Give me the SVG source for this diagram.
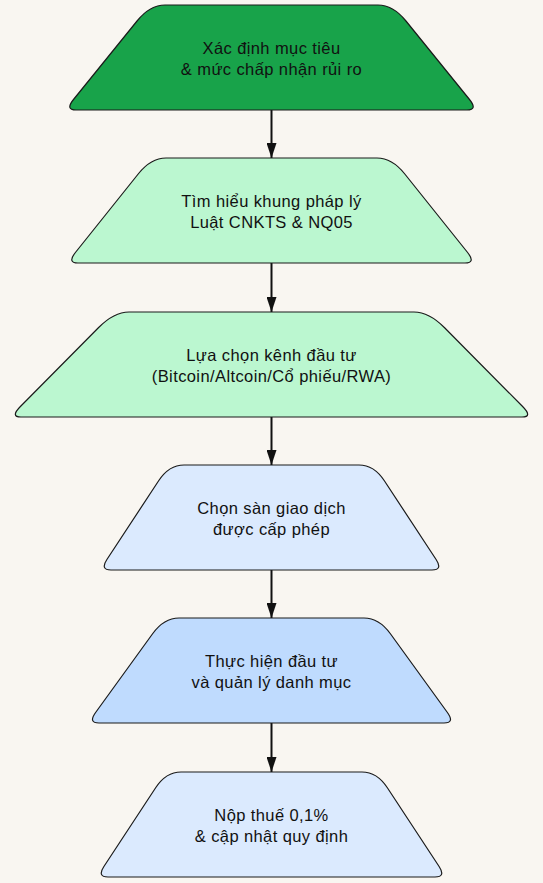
<svg xmlns="http://www.w3.org/2000/svg" width="543" height="883" viewBox="0 0 543 883">
  <defs>
    <marker id="arrow" viewBox="0 0 15 10" markerWidth="15" markerHeight="10" refX="15" refY="5" orient="auto" markerUnits="userSpaceOnUse">
      <path d="M0,0 L15,5 L0,10 z" fill="#111"/>
    </marker>
    <style>
      .node path { stroke: #1a1a1a; stroke-width: 1.2; }
      .node text { font-family: "Liberation Sans", Arial, sans-serif; font-size: 16.5px; letter-spacing: 0.4px; fill: #111; text-anchor: middle; }
      .edges line { stroke: #111; stroke-width: 2; marker-end: url(#arrow); }
      .g1 { fill: #18a34a; }
      .g2 { fill: #bbf7d0; }
      .b1 { fill: #dbeafe; }
      .b2 { fill: #bfdbfe; }
    </style>
  </defs>
  <rect width="543" height="883" fill="#f9f6f1"/>
  <g class="edges">
    <line x1="271.5" y1="110" x2="271.5" y2="158"/>
    <line x1="271.5" y1="263" x2="271.5" y2="312"/>
    <line x1="271.5" y1="417" x2="271.5" y2="465"/>
    <line x1="271.5" y1="570" x2="271.5" y2="618"/>
    <line x1="271.5" y1="723" x2="271.5" y2="772"/>
  </g>
  <g id="n1" class="node">
    <path class="g1" d="M165,5 L378,5 Q393,5 405.75,20.75 L469.5,99.5 Q478,110 467,110 L76,110 Q65,110 73.5,99.5 L137.25,20.75 Q150,5 165,5 Z"/>
    <text x="271.5" y="53.5">Xác định mục tiêu</text>
    <text x="271.5" y="74.5">&amp; mức chấp nhận rủi ro</text>
  </g>
  <g id="n2" class="node">
    <path class="g2" d="M166,158 L377,158 Q392,158 404.6,173.75 L467.6,252.5 Q476,263 465,263 L78,263 Q67,263 75.4,252.5 L138.4,173.75 Q151,158 166,158 Z"/>
    <text x="271.5" y="206.5">Tìm hiểu khung pháp lý</text>
    <text x="271.5" y="227.5">Luật CNKTS &amp; NQ05</text>
  </g>
  <g id="n3" class="node">
    <path class="g2" d="M129,312 L414,312 Q429,312 444.6,327.75 L522.6,406.5 Q533,417 522,417 L21,417 Q10,417 20.4,406.5 L98.4,327.75 Q114,312 129,312 Z"/>
    <text x="271.5" y="360.5">Lựa chọn kênh đầu tư</text>
    <text x="271.5" y="381.5">(Bitcoin/Altcoin/Cổ phiếu/RWA)</text>
  </g>
  <g id="n4" class="node">
    <path class="b1" d="M184,465 L359,465 Q374,465 384.35,480.75 L436.1,559.5 Q443,570 432,570 L111,570 Q100,570 106.9,559.5 L158.65,480.75 Q169,465 184,465 Z"/>
    <text x="271.5" y="513.5">Chọn sàn giao dịch</text>
    <text x="271.5" y="534.5">được cấp phép</text>
  </g>
  <g id="n5" class="node">
    <path class="b2" d="M179,618 L364,618 Q379,618 390.4,633.75 L447.4,712.5 Q455,723 444,723 L99,723 Q88,723 95.6,712.5 L152.6,633.75 Q164,618 179,618 Z"/>
    <text x="271.5" y="666.5">Thực hiện đầu tư</text>
    <text x="271.5" y="687.5">và quản lý danh mục</text>
  </g>
  <g id="n6" class="node">
    <path class="b1" d="M181,772 L362,772 Q377,772 387.35,787.75 L439.1,866.5 Q446,877 435,877 L108,877 Q97,877 103.9,866.5 L155.65,787.75 Q166,772 181,772 Z"/>
    <text x="271.5" y="820.5">Nộp thuế 0,1%</text>
    <text x="271.5" y="841.5">&amp; cập nhật quy định</text>
  </g>
</svg>
